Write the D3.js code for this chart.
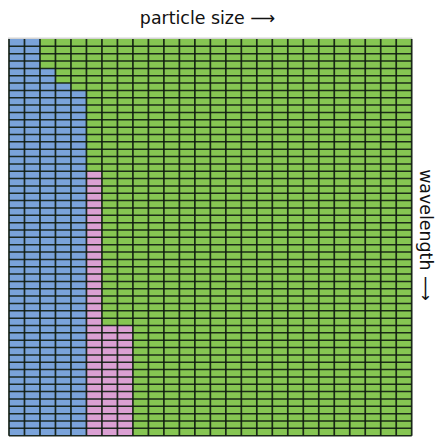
<!DOCTYPE html>
<html>
<head>
<meta charset="utf-8">
<script src="https://cdn.jsdelivr.net/npm/d3@7"></script>
<style>
  html, body { margin: 0; padding: 0; background: #fff; }
  svg { display: block; }
  text { font-family: "DejaVu Sans", sans-serif; fill: #111; }
</style>
</head>
<body>
<svg id="chart" width="436" height="437"></svg>
<script>
// ---- data ----
const particleSizeBins = d3.range(26);   // columns, small → large
const wavelengthBins = d3.range(54);     // rows, short → long (top → bottom)
// first wavelength row (from top) at which each size column is in the "blue" regime
const blueFromRow = [0, 0, 4, 6, 7];
// first wavelength row at which each size column is in the "pink" regime (null = none)
const pinkFromRow = [null, null, null, null, null, 18, 39, 39];
const regimeColors = { blue: "#7aa3da", pink: "#dba0d3", green: "#86c652" };
const xLabel = "particle size \u27F6";
const yLabel = "wavelength \u27F6";

// ---- layout ----
const svg = d3.select("#chart");
const gLeft = 9, gRight = 411.7, gTop = 39, gBottom = 435.7;

const x = d3.scaleBand().domain(particleSizeBins).range([gLeft, gRight]).padding(0);
const y = d3.scaleBand().domain(wavelengthBins).range([gTop, gBottom]).padding(0);

function regime(c, r) {
  if (c < blueFromRow.length && r >= blueFromRow[c]) return "blue";
  if (c < pinkFromRow.length && pinkFromRow[c] !== null && r >= pinkFromRow[c]) return "pink";
  return "green";
}

const cells = [];
particleSizeBins.forEach(c => wavelengthBins.forEach(r => cells.push({ c, r, k: regime(c, r) })));

svg.append("rect")
  .attr("x", gLeft - 1).attr("y", gTop - 1.5)
  .attr("width", gRight - gLeft + 1.5).attr("height", gBottom - gTop + 2)
  .attr("fill", "#d4d4d4");

svg.append("g").selectAll("rect").data(cells).join("rect")
  .attr("x", d => x(d.c))
  .attr("y", d => y(d.r))
  .attr("width", x.bandwidth())
  .attr("height", y.bandwidth())
  .attr("fill", d => regimeColors[d.k]);

// grid lines
const grid = svg.append("g").attr("stroke", "#0d1a0d").attr("stroke-opacity", 0.9);
grid.selectAll("line.v").data(particleSizeBins.concat([particleSizeBins.length])).join("line")
  .attr("class", "v")
  .attr("x1", d => d < particleSizeBins.length ? x(d) : gRight)
  .attr("x2", d => d < particleSizeBins.length ? x(d) : gRight)
  .attr("y1", gTop).attr("y2", gBottom)
  .attr("stroke-width", 1.7);
grid.selectAll("line.h").data(wavelengthBins.slice(1).concat([wavelengthBins.length])).join("line")
  .attr("class", "h")
  .attr("x1", gLeft).attr("x2", gRight)
  .attr("y1", d => d < wavelengthBins.length ? y(d) : gBottom)
  .attr("y2", d => d < wavelengthBins.length ? y(d) : gBottom)
  .attr("stroke-width", 1.5);

// labels
svg.append("text")
  .attr("x", 207.5).attr("y", 24)
  .attr("text-anchor", "middle")
  .attr("font-size", 17.4)
  .text(xLabel);

svg.append("text")
  .attr("transform", "translate(420,235) rotate(90)")
  .attr("text-anchor", "middle")
  .attr("font-size", 17.4)
  .text(yLabel);
</script>
</body>
</html>
